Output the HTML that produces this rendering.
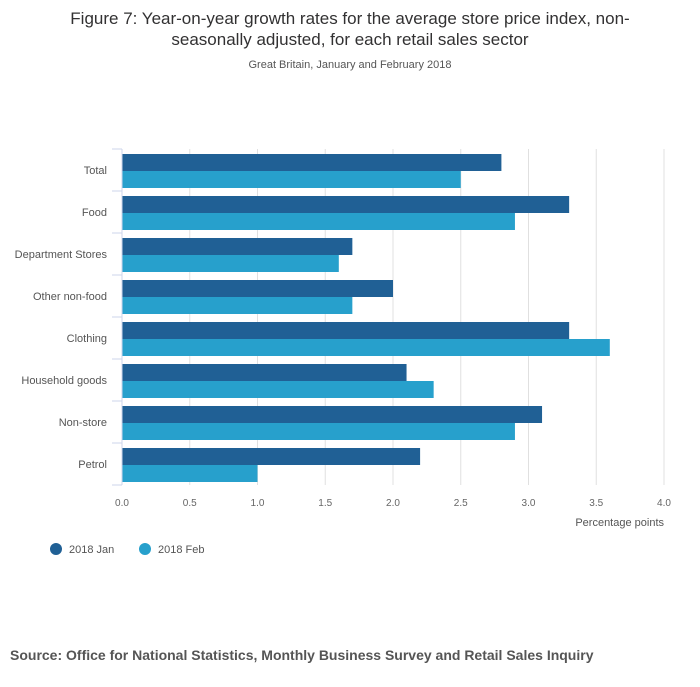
<!DOCTYPE html>
<html><head><meta charset="utf-8"><style>
body{margin:0;background:#fff;font-family:"Liberation Sans",sans-serif;}
svg text{font-family:"Liberation Sans",sans-serif;}
</style></head><body>
<svg width="700" height="682">
<text x="350" y="24" text-anchor="middle" font-size="17" fill="#323132">Figure 7: Year-on-year growth rates for the average store price index, non-</text>
<text x="350" y="45" text-anchor="middle" font-size="17" fill="#323132">seasonally adjusted, for each retail sales sector</text>
<text x="350" y="68" text-anchor="middle" font-size="11" fill="#555">Great Britain, January and February 2018</text>
<g id="grid"></g><g id="bars"></g><g id="yax"></g><g id="xax"></g>
<text x="664" y="526" text-anchor="end" font-size="11" fill="#555">Percentage points</text>
<g><circle cx="56" cy="549" r="6" fill="#206095"/><text x="69" y="553" font-size="11" fill="#555">2018 Jan</text></g>
<g><circle cx="145" cy="549" r="6" fill="#27a0cc"/><text x="158" y="553" font-size="11" fill="#555">2018 Feb</text></g>
<text x="10" y="660" font-size="14" font-weight="bold" fill="#555">Source: Office for National Statistics, Monthly Business Survey and Retail Sales Inquiry</text>
</svg>
<script>
const categories=["Total","Food","Department Stores","Other non-food","Clothing","Household goods","Non-store","Petrol"];
const janValues=[2.8,3.3,1.7,2.0,3.3,2.1,3.1,2.2];
const febValues=[2.5,2.9,1.6,1.7,3.6,2.3,2.9,1.0];
const xTicks=[0,0.5,1,1.5,2,2.5,3,3.5,4];
const NS="http://www.w3.org/2000/svg";
const x0=122,x1=664,plotTop=149,band=42,xMax=4;
const xs=v=>x0+v/xMax*(x1-x0);
const ys=i=>plotTop+i*band;
function mk(p,t,a){const e=document.createElementNS(NS,t);for(const k in a)e.setAttribute(k,a[k]);p.appendChild(e);return e;}
const grid=document.getElementById('grid'),bars=document.getElementById('bars'),yax=document.getElementById('yax'),xax=document.getElementById('xax');
const bottom=ys(categories.length);
xTicks.forEach(t=>{
 const l=mk(grid,'line',{x1:xs(t),x2:xs(t),y1:plotTop,y2:bottom,stroke:'#e0e0e0'});
 
 
 const tx=mk(xax,'text',{x:xs(t),y:bottom+21,'text-anchor':'middle','font-size':10,fill:'#666'});
 tx.textContent=t.toFixed(1);
 
 
});
mk(yax,'line',{x1:x0,x2:x0,y1:plotTop,y2:bottom,stroke:'#ccd6eb'});
categories.forEach((c,i)=>{
 const y=ys(i);
 const b1=mk(bars,'rect',{x:x0,y:y+5,width:xs(janValues[i])-x0,height:17,fill:'#206095'});
 
 
 const b2=mk(bars,'rect',{x:x0,y:y+22,width:xs(febValues[i])-x0,height:17,fill:'#27a0cc'});
 
 
 mk(yax,'line',{x1:x0-10,x2:x0,y1:y,y2:y,stroke:'#ccd6eb'});
 const t=mk(yax,'text',{x:107,y:y+band/2+4,'text-anchor':'end','font-size':11,fill:'#555'});
 t.textContent=c;
 
 
});
mk(yax,'line',{x1:x0-10,x2:x0,y1:bottom,y2:bottom,stroke:'#ccd6eb'});
</script>
</body></html>
